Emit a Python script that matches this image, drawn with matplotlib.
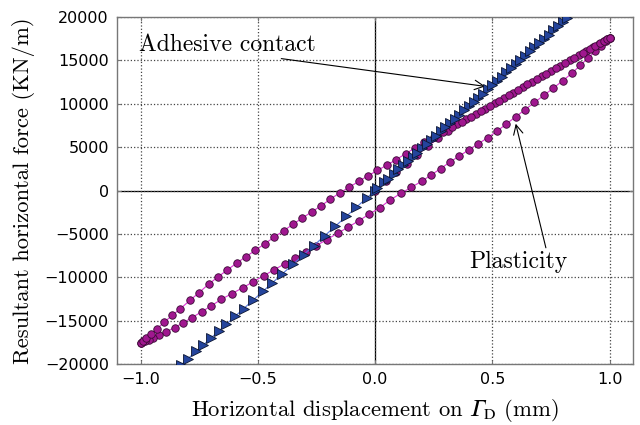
import matplotlib
matplotlib.use("Agg")
import matplotlib.pyplot as plt

plt.rcParams['mathtext.fontset'] = 'cm'

# adhesive contact: loading 0 -> 1, then unloading 1 -> -1
adh_load_x = [0.0, 0.04, 0.08, 0.12, 0.16, 0.20, 0.24, 0.28, 0.32, 0.36, 0.40, 0.44, 0.48,
              0.52, 0.56, 0.60, 0.64, 0.68, 0.72, 0.76, 0.80, 0.84, 0.88, 0.92, 0.96, 1.0]
adh_load_f = [0, 972, 1944, 2916, 3888, 4860, 5832, 6804, 7776, 8748, 9720, 10692, 11664,
              12636, 13608, 14580, 15552, 16524, 17496, 18468, 19440, 20412, 21384, 22356, 23328, 24300]
adh_unload_x = [1.0, 0.98, 0.955, 0.925, 0.89, 0.855, 0.82, 0.78, 0.74, 0.70, 0.66, 0.62, 0.58,
                0.54, 0.50, 0.46, 0.42, 0.38, 0.34, 0.30, 0.26, 0.22, 0.18, 0.14, 0.10, 0.055,
                0.01, -0.035, -0.080, -0.123, -0.170, -0.215, -0.261, -0.305, -0.350, -0.397,
                -0.438, -0.478, -0.521, -0.561, -0.596, -0.635, -0.667, -0.699, -0.734, -0.762,
                -0.798, -0.826, -0.852, -0.878, -0.902, -0.925, -0.945, -0.962, -0.977, -0.99, -1.0]
adh_unload_f = [24300, 23810, 23210, 22480, 21630, 20780, 19930, 18950, 17980, 17010, 16040,
                15070, 14090, 13120, 12150, 11180, 10210, 9230, 8260, 7290, 6320, 5350, 4370,
                3400, 2430, 1340, 240, -850, -1940, -2990, -4130, -5220, -6340, -7410, -8510,
                -9650, -10640, -11620, -12660, -13630, -14480, -15430, -16210, -16990, -17840,
                -18520, -19390, -20070, -20700, -21340, -21920, -22480, -22960, -23380, -23740,
                -24060, -24300]

# plasticity: virgin loading 0 -> 1, unloading 1 -> -1, reloading -1 -> 1
pl_virgin_x = [0.0, 0.045, 0.09, 0.135, 0.18, 0.225, 0.27, 0.31, 0.35, 0.39, 0.43, 0.47, 0.51,
               0.55, 0.59, 0.63, 0.67, 0.71, 0.75, 0.79, 0.83, 0.87, 0.90, 0.93, 0.955, 0.975, 0.99, 1.0]
pl_virgin_f = [0, 1040, 2080, 3110, 4120, 5100, 6010, 6900, 7620, 8230, 8830, 9430, 10030,
               10650, 11270, 11900, 12530, 13160, 13780, 14400, 15020, 15620, 16090, 16550,
               16920, 17230, 17450, 17600]
pl_unload_x = [1.0, 0.985, 0.965, 0.94, 0.91, 0.875, 0.84, 0.80, 0.76, 0.72, 0.68, 0.64, 0.60,
               0.56, 0.52, 0.48, 0.44, 0.40, 0.36, 0.32, 0.28, 0.24, 0.20, 0.155, 0.11, 0.065,
               0.02, -0.025, -0.07, -0.115, -0.16, -0.205, -0.25, -0.295, -0.34, -0.385, -0.43,
               -0.475, -0.52, -0.565, -0.61, -0.655, -0.70, -0.74, -0.78, -0.82, -0.855, -0.89,
               -0.92, -0.945, -0.965, -0.98, -0.992, -1.0]
pl_unload_f = [17600, 17220, 16710, 16080, 15320, 14430, 13530, 12640, 11800, 10970, 10150,
               9320, 8500, 7670, 6840, 6080, 5380, 4690, 3990, 3290, 2530, 1800, 1080, 380,
               -330, -1080, -1990, -2730, -3500, -4230, -4940, -5650, -6350, -7050, -7750,
               -8450, -9130, -9830, -10530, -11220, -11880, -12530, -13320, -13990, -14640,
               -15280, -15800, -16290, -16690, -16990, -17220, -17390, -17520, -17600]
pl_reload_x = [-1.0, -0.99, -0.975, -0.955, -0.93, -0.90, -0.865, -0.83, -0.79, -0.75, -0.71,
               -0.67, -0.63, -0.59, -0.55, -0.51, -0.47, -0.43, -0.39, -0.35, -0.31, -0.27,
               -0.23, -0.19, -0.15, -0.11, -0.07, -0.03, 0.01, 0.05, 0.09, 0.13, 0.17, 0.21,
               0.25, 0.29, 0.33, 0.37, 0.41, 0.45, 0.49, 0.53, 0.57, 0.61, 0.65, 0.69, 0.73,
               0.77, 0.81, 0.85, 0.885, 0.915, 0.94, 0.96, 0.975, 0.99, 1.0]
pl_reload_f = [-17600, -17360, -17000, -16520, -15920, -15200, -14390, -13620, -12670, -11760,
               -10800, -9960, -9160, -8360, -7620, -6880, -6140, -5370, -4640, -3900, -3160,
               -2470, -1760, -980, -270, 380, 1040, 1700, 2310, 2920, 3560, 4230, 4900, 5550,
               6150, 6740, 7330, 7930, 8530, 9130, 9730, 10340, 10960, 11590, 12220, 12850,
               13470, 14090, 14710, 15330, 15860, 16320, 16700, 17000, 17230, 17450, 17600]

adh_x = adh_load_x + adh_unload_x
adh_f = adh_load_f + adh_unload_f
pl_x = pl_virgin_x + pl_unload_x + pl_reload_x
pl_f = pl_virgin_f + pl_unload_f + pl_reload_f

serif = 'cmr10'
fs = 16.3
fs_note = 17

fig = plt.figure(figsize=(6.4, 4.25), dpi=100)
ax = fig.add_axes([0.183, 0.1435, 0.806, 0.8165])

ax.axhline(0, color='black', lw=0.9, zorder=1)
ax.axvline(0, color='black', lw=0.9, zorder=1)

ax.plot(pl_x, pl_f, color='#e033d6', lw=0.8, marker='o', ms=5.4,
        mfc='#a0178f', mec='#3a0a35', mew=0.6, zorder=3)
ax.plot(adh_x, adh_f, color='#5577dd', lw=0.8, marker='>', ms=6.8,
        mfc='#24449c', mec='#0a1430', mew=0.6, zorder=4)

ax.set_xlim(-1.1, 1.1)
ax.set_ylim(-20000, 20000)
ax.set_xticks([-1.0, -0.5, 0.0, 0.5, 1.0])
ax.set_yticks(range(-20000, 20001, 5000))
ax.grid(True, linestyle=':', color='#444444', lw=0.9)
ax.tick_params(direction='in', top=True, right=True, labelsize=11.5, length=3,
               pad=6, color='#777777')
for s in ax.spines.values():
    s.set_color('#777777')
    s.set_linewidth(1.0)

# italic capital gamma taken from the STIX plane-1 math letters
ax.set_xlabel('Horizontal displacement on $\\mathrm{\U0001D6E4}_{\\mathrm{D}}$ (mm)',
              fontname=serif, fontsize=fs, labelpad=7, math_fontfamily='stix')
ax.set_ylabel('Resultant horizontal force (KN/m)', fontname=serif, fontsize=fs, labelpad=7)

ax.annotate('Adhesive contact', xy=(0.47, 12000), xytext=(-0.63, 16800),
            fontname=serif, fontsize=fs_note, ha='center', va='center',
            arrowprops=dict(arrowstyle='->', color='black', lw=0.8, shrinkA=0, shrinkB=0,
                            relpos=(0.69, 0.0)))
ax.annotate('Plasticity', xy=(0.6, 7700), xytext=(0.61, -8200),
            fontname=serif, fontsize=fs_note, ha='center', va='center',
            arrowprops=dict(arrowstyle='->', color='black', lw=0.8, shrinkA=0, shrinkB=0,
                            relpos=(0.79, 1.0)))

fig.savefig('out.png', dpi=100)
